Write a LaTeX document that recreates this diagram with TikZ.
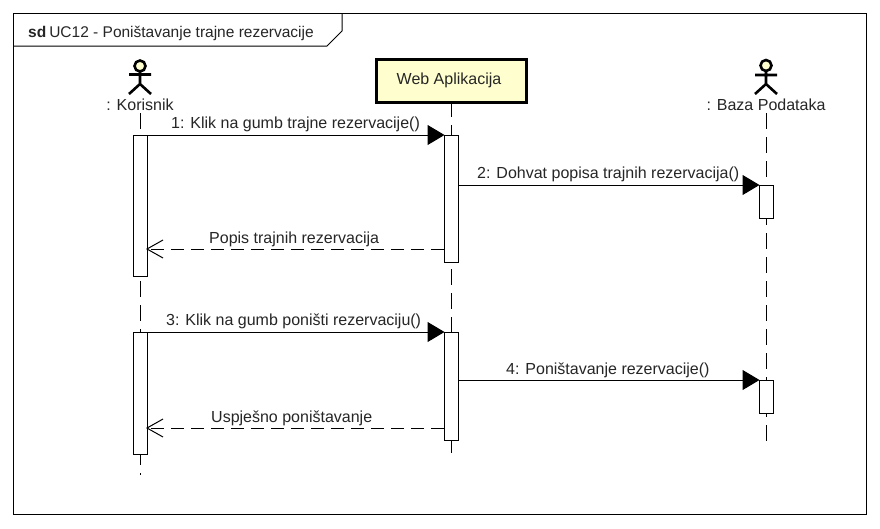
\documentclass[tikz,border=0pt]{standalone}
\usepackage{fontspec}
\setmainfont{Liberation Sans}
\usetikzlibrary{arrows.meta}
\definecolor{actorfill}{HTML}{FEFECE}
\tikzset{
  x=1pt,y=-1pt,
  txt/.style={font=\fontsize{16}{18}\selectfont,text=black!85,inner sep=0pt},
  bar/.style={draw=black,fill=white,line width=1pt,minimum width=14pt,inner sep=0pt,anchor=north},
  life/.style={draw=black,line width=1pt,dash pattern=on 16pt off 8pt},
  sync/.style={draw=black,line width=1pt,shorten >=-1pt,-{Triangle[length=17pt,width=20pt,fill=black]}},
  reply/.style={draw=black,line width=1pt,dash pattern=on 13pt off 7pt,shorten >=-1.5pt,-{Straight Barb[length=16pt,width=18pt,line width=1pt]}},
  limb/.style={draw=black,line width=2.6pt},
  partbox/.style={draw=black,fill=actorfill,line width=3pt,minimum width=150pt,minimum height=43pt,inner sep=0pt,font=\fontsize{16}{18}\selectfont,text=black!85}
}
\begin{document}
\begin{tikzpicture}
\useasboundingbox (0,0) rectangle (880,528);
\fill[white] (0,0) rectangle (880,528);
% frame
\draw[black,line width=1pt] (13.5,13.5) rectangle (866,514.5);
\draw[black,line width=1pt] (13.5,46) -- (327,46) -- (342,31) -- (342,13.5);
\node[txt,anchor=base west,font=\fontsize{15.5}{18}\selectfont] (title) at (28,37) {\textbf{sd}\hspace{3pt}UC12 - Poništavanje trajne rezervacije};
% participants
\coordinate (kt) at (140,113);
\coordinate (kb) at (140,475);
\coordinate (wt) at (451,101);
\coordinate (wb) at (451,453);
\coordinate (bt) at (766,113);
\coordinate (bb) at (766,442);
\draw[life] (kt) -- (kb);
\draw[life] (wt) -- (wb);
\draw[life] (bt) -- (bb);
% actors
\draw[limb,fill=actorfill] (140,66) circle (5.5);
\draw[limb] (140,71.5) -- (140,84) (129,74.5) -- (151,74.5) (129,94) -- (140,84) -- (151,94);
\node[txt,anchor=base] (korisnik) at (140,110.5) {: Korisnik};
\draw[limb,fill=actorfill] (766,65.5) circle (5.5);
\draw[limb] (766,71) -- (766,84) (755,75) -- (777,75) (755,94) -- (766,84) -- (777,94);
\node[txt,anchor=base] (baza) at (766,110.5) {: Baza Podataka};
\node[partbox] (web) at (451,80.5) {\hspace{-4pt}\raisebox{3pt}{Web Aplikacija}};
% activations
\node[bar,minimum height=141pt] (a1) at (140,135) {};
\node[bar,minimum height=122pt] (a2) at (140,332) {};
\node[bar,minimum height=127pt] (w1) at (451,135) {};
\node[bar,minimum height=108pt] (w2) at (451,332) {};
\node[bar,minimum height=33pt] (b1) at (766,185) {};
\node[bar,minimum height=33pt] (b2) at (766,380) {};
% messages
\draw[sync] (a1.north east) -- (w1.north west);
\draw[sync] (w1.east |- b1.north) -- (b1.north west);
\coordinate (r1) at (451,249);
\draw[reply] (w1.west |- r1) -- (a1.east |- r1);
\draw[sync] (a2.north east) -- (w2.north west);
\draw[sync] (w2.east |- b2.north) -- (b2.north west);
\coordinate (r2) at (451,428);
\draw[reply] (w2.west |- r2) -- (a2.east |- r2);
% labels
\node[txt,anchor=base west] (m1) at (171,128) {1: Klik na gumb trajne rezervacije()};
\node[txt,anchor=base west] (m2) at (477,178.5) {2: Dohvat popisa trajnih rezervacija()};
\node[txt,anchor=base west] (m3) at (209,243) {Popis trajnih rezervacija};
\node[txt,anchor=base west] (m4) at (166,325) {3: Klik na gumb poništi rezervaciju()};
\node[txt,anchor=base west] (m5) at (506,374.5) {4: Poništavanje rezervacije()};
\node[txt,anchor=base west] (m6) at (211,422) {Uspješno poništavanje};
\end{tikzpicture}
\end{document}
